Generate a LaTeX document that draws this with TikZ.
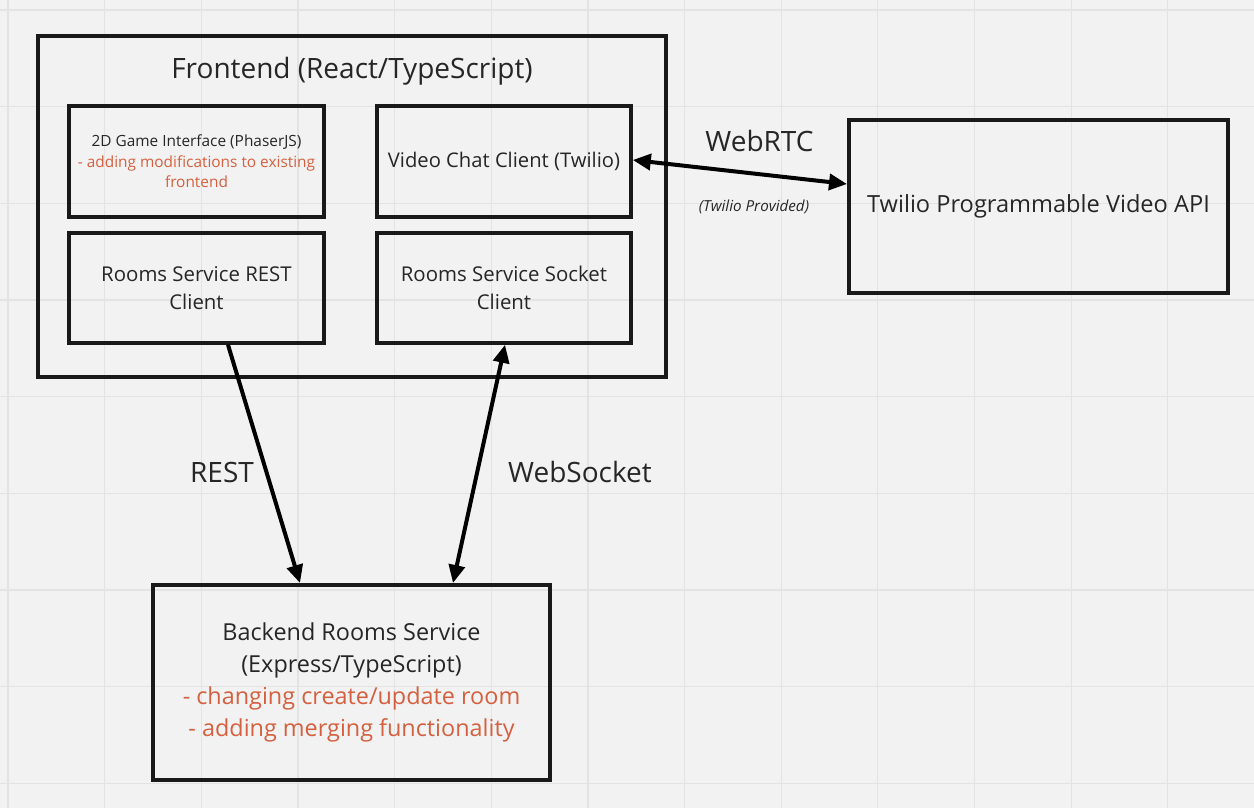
\documentclass[tikz,border=0pt]{standalone}
\usepackage{fontspec}
\setmainfont{Open Sans}
\usepackage{xcolor}
\usetikzlibrary{positioning,calc,arrows.meta}

\definecolor{boardbg}{HTML}{F2F2F2}
\definecolor{gridline}{HTML}{E3E3E3}
\definecolor{notered}{HTML}{D5603F}
\definecolor{inkgray}{HTML}{262626}

\begin{document}
\begin{tikzpicture}[x=0.5pt, y=-0.5pt,
    every node/.style={text=inkgray, align=center, inner sep=0pt},
    bigbox/.style={draw=black!90, line width=2pt},
    subbox/.style={draw=black!90, line width=1.8pt},
    link/.style={line width=2pt, black}]
        % Board
        \fill[boardbg] (0,0) rectangle (1254,808);
        \useasboundingbox (0,0) rectangle (1254,808);
        \foreach \gx in {0,...,12}
            \draw[gridline, line width=0.6pt] ({8+96.65*\gx},0) -- ({8+96.65*\gx},808);
        \foreach \gy in {0,...,8}
            \draw[gridline, line width=0.6pt] (0,{10+96.65*\gy}) -- (1254,{10+96.65*\gy});

        % Frontend
        \node[bigbox, minimum width=314pt, minimum height=170.5pt] (front) at (352,206.5) {};
        \node[font=\fontsize{14}{17}\selectfont] (fronttitle) at (352,71) {Frontend (React/TypeScript)};

        \node[subbox, minimum width=127.5pt, minimum height=55.5pt, font=\fontsize{7.7}{10.2}\selectfont] (game) at (196.5,161.5)
            {2D Game Interface (PhaserJS)\\
             \color{notered}- adding modifications to existing\\
             \color{notered}frontend};
        \node[subbox, minimum width=127pt, minimum height=55.5pt, font=\fontsize{10.1}{14}\selectfont] (video) at (504,161.5)
            {Video Chat Client (Twilio)};
        \node[subbox, minimum width=127.5pt, minimum height=55pt, font=\fontsize{10.2}{14}\selectfont] (restcl) at (196.5,288)
            {Rooms Service REST\\Client};
        \node[subbox, minimum width=127pt, minimum height=55pt, font=\fontsize{10.2}{14}\selectfont] (sockcl) at (504,288)
            {Rooms Service Socket\\Client};

        % Twilio
        \node[bigbox, minimum width=189.5pt, minimum height=86.5pt, font=\fontsize{11.8}{14}\selectfont] (twilio) at (1038.5,206.5)
            {Twilio Programmable Video API};

        % Backend
        \node[bigbox, minimum width=198.5pt, minimum height=97.5pt, font=\fontsize{11.7}{16}\selectfont] (backend) at (351.5,682.5)
            {Backend Rooms Service\\(Express/TypeScript)\\
             \color{notered}- changing create/update room\\
             \color{notered}- adding merging functionality};

        % Links
        \draw[link, -{Triangle[length=9pt, width=8pt]}] ([xshift=15.75pt]restcl.south) -- ([xshift=-25.75pt]backend.north);
        \node[font=\fontsize{14}{17}\selectfont] (restlbl) at (222,472) {REST};

        \draw[link, {Triangle[length=9pt, width=8pt]}-{Triangle[length=9pt, width=8pt]}] ([xshift=0.5pt]sockcl.south) -- ([xshift=50.75pt]backend.north);
        \node[font=\fontsize{14}{17}\selectfont] (socklbl) at (580,472) {WebSocket};

        \draw[link, {Triangle[length=9pt, width=8pt]}-{Triangle[length=9pt, width=8pt]}] ([yshift=0.75pt]video.east) -- ([yshift=11.25pt]twilio.west);
        \node[font=\fontsize{14}{17}\selectfont] (rtclbl) at (759.5,141) {WebRTC};
        \node[font=\fontsize{7.6}{9}\selectfont\itshape] (provlbl) at (754,207) {(Twilio Provided)};
\end{tikzpicture}
\end{document}
